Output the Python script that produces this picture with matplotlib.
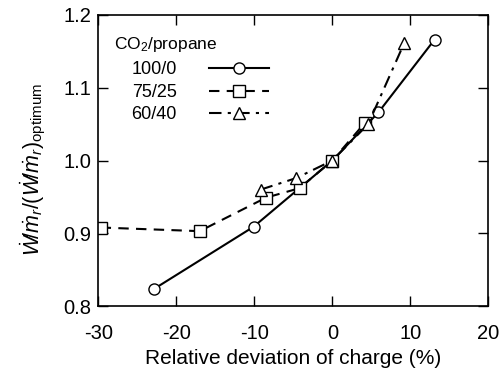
import matplotlib
matplotlib.use("Agg")
import matplotlib.pyplot as plt

plt.rcParams['font.family'] = ['Liberation Sans', 'DejaVu Sans']
plt.rcParams['mathtext.fontset'] = 'custom'
plt.rcParams['mathtext.rm'] = 'Liberation Sans'
plt.rcParams['mathtext.it'] = 'Liberation Sans:italic'

# CO2/propane 100/0
x_100 = [-22.8, -10.1, 0.0, 5.9, 13.1]
y_100 = [0.824, 0.909, 1.000, 1.066, 1.166]
# CO2/propane 75/25
x_75 = [-29.7, -17.0, -8.5, -4.2, 0.0, 4.2]
y_75 = [0.908, 0.903, 0.949, 0.962, 1.000, 1.052]
# CO2/propane 60/40
x_60 = [-9.2, -4.6, 0.0, 4.6, 9.2]
y_60 = [0.960, 0.976, 1.000, 1.050, 1.161]

xticks = [-30, -20, -10, 0, 10, 20]
yticks = [0.8, 0.9, 1.0, 1.1, 1.2]

fig = plt.figure(figsize=(5.04, 3.72), dpi=100)
ax = fig.add_axes([0.195, 0.177, 0.774, 0.783])

mk = dict(markerfacecolor='white', markeredgecolor='black', markersize=8,
          markeredgewidth=1.0, color='black', linewidth=1.5)
ax.plot(x_100, y_100, marker='o', linestyle='-', label='100/0', **mk)
ax.plot(x_75, y_75, marker='s', linestyle=(0, (5, 3.5)), label='75/25', **mk)
ax.plot(x_60, y_60, marker='^', linestyle=(0, (6, 3, 1.5, 3)), label='60/40', **mk)

ax.set_xlim(-30, 20)
ax.set_ylim(0.8, 1.2)
ax.set_xticks(xticks)
ax.set_yticks(yticks)
ax.set_xticklabels([str(t) for t in xticks])
ax.set_yticklabels(['%.1f' % t for t in yticks])
ax.tick_params(direction='in', length=7, width=1, top=True, right=True,
               labelsize=14.5)
ax.tick_params(axis='x', pad=13)
ax.tick_params(axis='y', pad=5)
for s in ax.spines.values():
    s.set_linewidth(1.2)

ax.set_xlabel('Relative deviation of charge (%)', fontsize=15, labelpad=4)
ax.set_ylabel(r'$\dot{W}\!/\dot{m}_r/(\dot{W}\!/\dot{m}_r)_{\mathrm{optimum}}$',
              fontsize=15.5)
ax.yaxis.set_label_coords(-0.128, 0.47)

ax.text(0.041, 0.9, r'CO$_2$/propane', transform=ax.transAxes,
        fontsize=12.5, ha='left', va='center')
ax.legend(loc='upper left', bbox_to_anchor=(0.085, 0.84), frameon=False,
          markerfirst=False, fontsize=13, handlelength=3.3,
          handletextpad=1.8, labelspacing=0.3, borderaxespad=0,
          borderpad=0)

fig.savefig('out.png', dpi=100)
